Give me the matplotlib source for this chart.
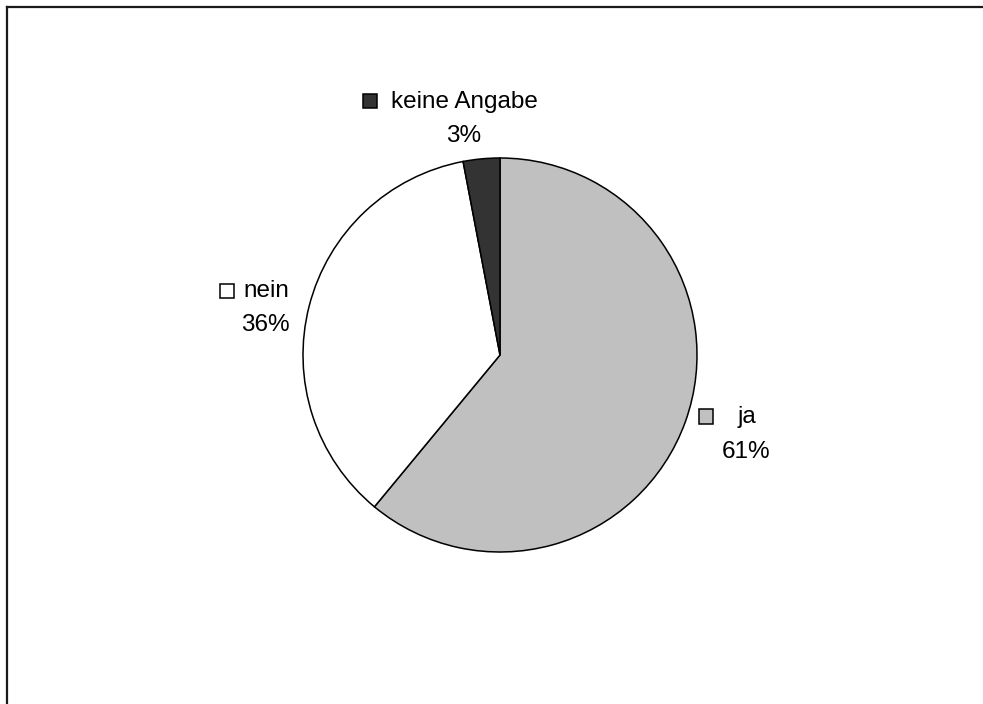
import matplotlib
matplotlib.use("Agg")
import matplotlib.pyplot as plt
from matplotlib.patches import Rectangle
from matplotlib.lines import Line2D

# Survey answers, clockwise from 12 o'clock
categories = ["ja", "nein", "keine Angabe"]
shares = [61, 36, 3]
colors = ["#C0C0C0", "#FFFFFF", "#333333"]

W, H = 983, 704
plt.rcParams["font.family"] = ["Liberation Sans", "DejaVu Sans"]

fig = plt.figure(figsize=(W / 100, H / 100), dpi=100)
ax = fig.add_axes([0, 0, 1, 1])
ax.set_xlim(0, W)
ax.set_ylim(0, H)
ax.set_aspect("equal")
ax.axis("off")

def py(y):
    # convert top-down pixel row to axis y
    return H - y

ax.pie(shares, colors=colors, startangle=90, counterclock=False,
       center=(500, py(355)), radius=197,
       wedgeprops=dict(edgecolor="black", linewidth=1.1))
ax.set_xlim(0, W)
ax.set_ylim(0, H)

# outer frame (only left and top edges fall inside the canvas)
ax.add_line(Line2D([7, 7], [py(7), -10], color="#1a1a1a", linewidth=1.6))
ax.add_line(Line2D([7, W + 10], [py(7), py(7)], color="#1a1a1a", linewidth=1.6))

# label layout: legend key box, name line and percentage line
label_layout = {
    "ja":           dict(box=(698.5, 409, 14.5), name=(746.7, 423), pct=(745.8, 458)),
    "nein":         dict(box=(219.5, 283.5, 14), name=(266.3, 297.3), pct=(265.8, 331)),
    "keine Angabe": dict(box=(362.7, 94, 14), name=(464.7, 108), pct=(463.3, 141.7)),
}

fs = 17.5
for cat, val, col in zip(categories, shares, colors):
    lay = label_layout[cat]
    bx, by, bs = lay["box"]
    ax.add_patch(Rectangle((bx, py(by + bs)), bs, bs, facecolor=col,
                           edgecolor="black", linewidth=1.1))
    ax.text(lay["name"][0], py(lay["name"][1]), cat, ha="center",
            va="baseline", fontsize=fs, color="black")
    ax.text(lay["pct"][0], py(lay["pct"][1]), f"{val}%", ha="center",
            va="baseline", fontsize=fs, color="black")

fig.savefig("out.png", dpi=100, facecolor="white")
